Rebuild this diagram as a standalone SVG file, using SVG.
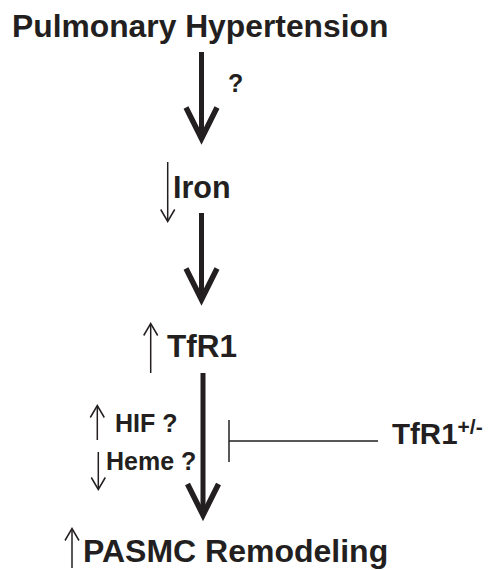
<svg xmlns="http://www.w3.org/2000/svg" width="489" height="570" viewBox="0 0 489 570">
<style>
text{font-family:"Liberation Sans",Arial,sans-serif;font-weight:bold;fill:#231f20}
.thick{stroke:#231f20;stroke-width:5;fill:none}
.thin{stroke:#231f20;stroke-width:1.5;fill:none}
</style>
<defs>
<path id="bighead" d="M-15.5,-31 L0,0 L15.5,-31" stroke="#231f20" stroke-width="5.5" fill="none" stroke-linejoin="miter"/>
<path id="smalldown" d="M-7,-12 L0,0 L7,-12" stroke="#231f20" stroke-width="1.5" fill="none"/>
<path id="smallup" d="M-7,12 L0,0 L7,12" stroke="#231f20" stroke-width="1.5" fill="none"/>
</defs>
<rect width="489" height="570" fill="#fff"/>
<g id="n-ph"><text x="12" y="37" font-size="31.8">Pulmonary Hypertension</text></g>
<g id="n-iron">
<text x="173" y="198" font-size="30.5">Iron</text>
<line class="thin" x1="167.7" y1="162" x2="167.7" y2="221"/>
<use href="#smalldown" x="167.7" y="221.5"/>
</g>
<g id="n-tfr1">
<text x="167" y="357" font-size="31.5">TfR1</text>
<line class="thin" x1="150.7" y1="373" x2="150.7" y2="324"/>
<use href="#smallup" x="150.7" y="323.5"/>
</g>
<g id="n-hif">
<text x="115" y="432" font-size="25">HIF ?</text>
<line class="thin" x1="97.3" y1="440" x2="97.3" y2="406"/>
<use href="#smallup" x="97.3" y="405.5"/>
</g>
<g id="n-heme">
<text x="106" y="470" font-size="25">Heme ?</text>
<line class="thin" x1="98.3" y1="452" x2="98.3" y2="489"/>
<use href="#smalldown" x="98.3" y="489.5"/>
</g>
<g id="n-tfr1het">
<text x="392" y="444" font-size="29.5">TfR1<tspan dy="-10" font-size="21">+/-</tspan></text>
</g>
<g id="n-pasmc">
<text x="83" y="562" font-size="32">PASMC Remodeling</text>
<line class="thin" x1="72" y1="568" x2="72" y2="529"/>
<use href="#smallup" x="72" y="528.5"/>
</g>
<g id="connectors">
<line class="thick" x1="201.5" y1="52" x2="201.5" y2="137"/>
<use href="#bighead" x="201.5" y="138.5"/>
<text x="228" y="92" font-size="25">?</text>
<line class="thick" x1="201.5" y1="213" x2="201.5" y2="298"/>
<use href="#bighead" x="201.5" y="299.5"/>
<line class="thick" x1="203" y1="373" x2="203" y2="513"/>
<use href="#bighead" x="203" y="515"/>
<line class="thin" x1="229" y1="441" x2="378" y2="441"/>
<line class="thin" x1="229" y1="420" x2="229" y2="462"/>
</g>
</svg>
